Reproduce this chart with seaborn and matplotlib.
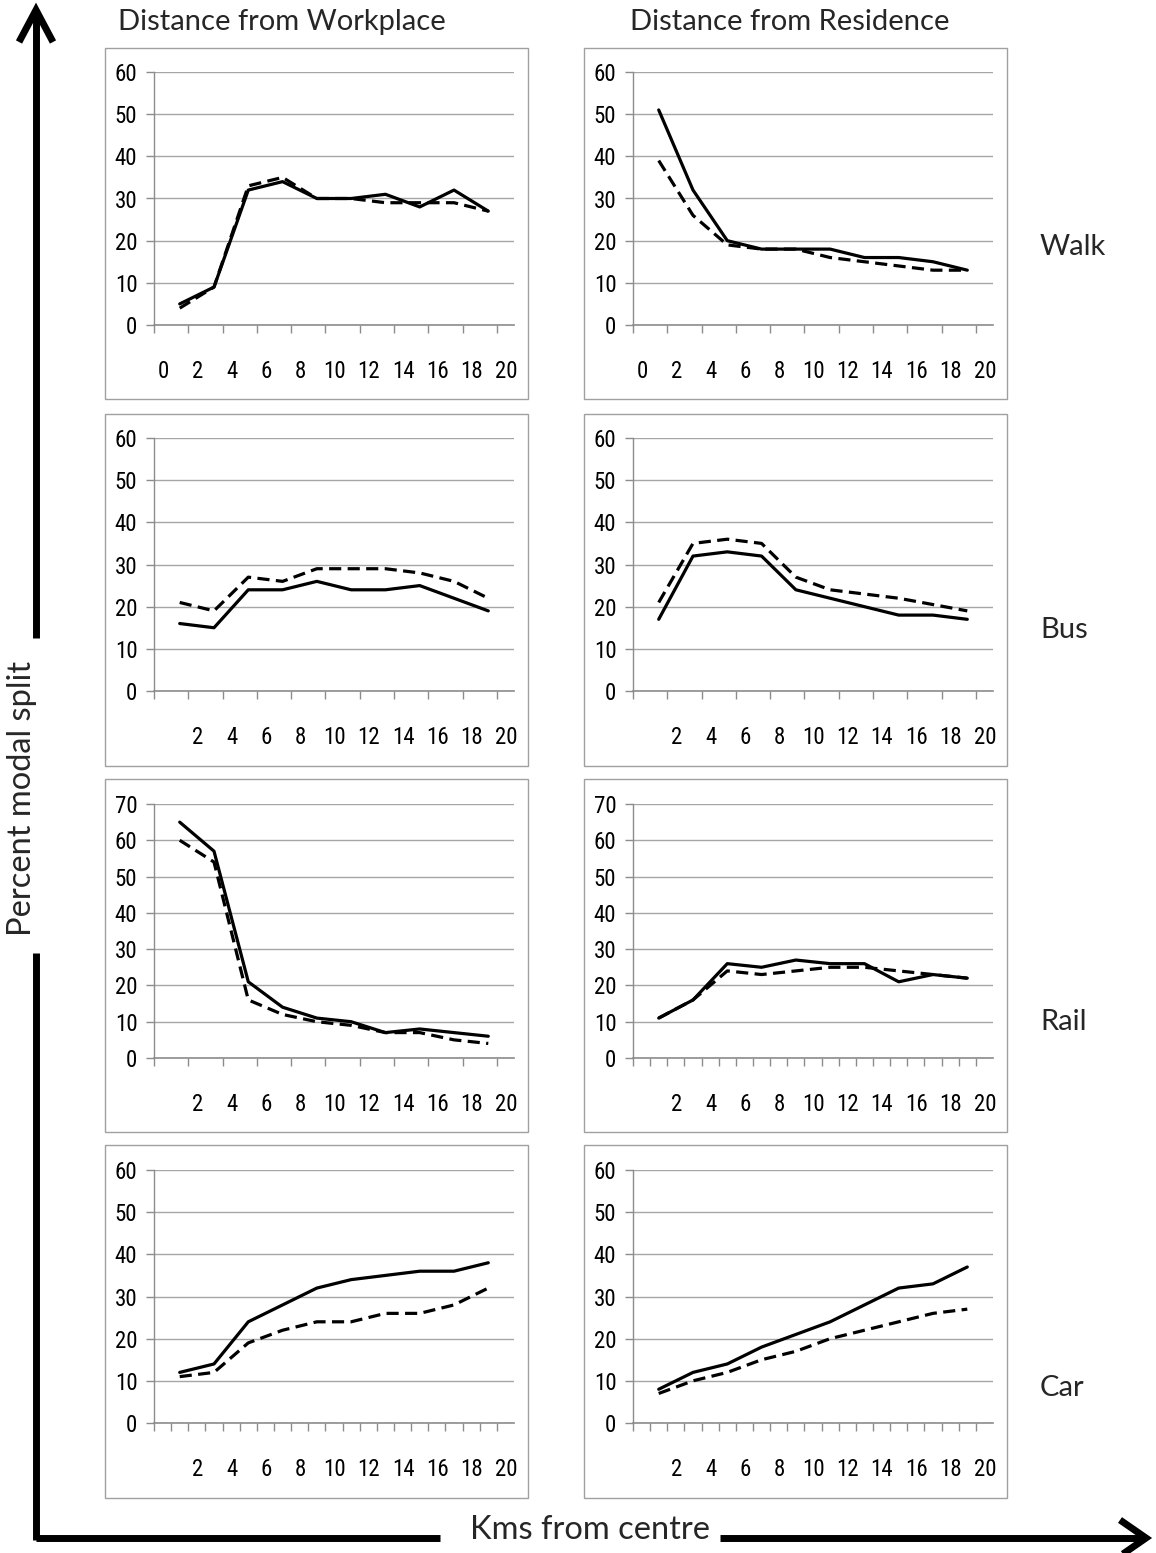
import numpy as np
import pandas as pd
import matplotlib
matplotlib.use("Agg")
import matplotlib.pyplot as plt
from matplotlib import font_manager
from matplotlib.lines import Line2D
from matplotlib.patches import Rectangle
from matplotlib.transforms import ScaledTranslation
import seaborn as sns

# ---------------- data ----------------
km = [1.5, 3.5, 5.5, 7.5, 9.5, 11.5, 13.5, 15.5, 17.5, 19.5]
modes = ["Walk", "Bus", "Rail", "Car"]
col_titles = ["Distance from Workplace", "Distance from Residence"]

walk_work_solid = [5, 9, 32, 34, 30, 30, 31, 28, 32, 27]
walk_work_dash = [4, 9, 33, 35, 30, 30, 29, 29, 29, 27]
walk_res_solid = [51, 32, 20, 18, 18, 18, 16, 16, 15, 13]
walk_res_dash = [39, 26, 19, 18, 18, 16, 15, 14, 13, 13]

bus_work_solid = [16, 15, 24, 24, 26, 24, 24, 25, 22, 19]
bus_work_dash = [21, 19, 27, 26, 29, 29, 29, 28, 26, 22]
bus_res_solid = [17, 32, 33, 32, 24, 22, 20, 18, 18, 17]
bus_res_dash = [21, 35, 36, 35, 27, 24, 23, 22, 20.5, 19]

rail_work_solid = [65, 57, 21, 14, 11, 10, 7, 8, 7, 6]
rail_work_dash = [60, 54, 16, 12, 10, 9, 7, 7, 5, 4]
rail_res_solid = [11, 16, 26, 25, 27, 26, 26, 21, 23, 22]
rail_res_dash = [11, 16, 24, 23, 24, 25, 25, 24, 23, 22]

car_work_solid = [12, 14, 24, 28, 32, 34, 35, 36, 36, 38]
car_work_dash = [11, 12, 19, 22, 24, 24, 26, 26, 28, 32]
car_res_solid = [8, 12, 14, 18, 21, 24, 28, 32, 33, 37]
car_res_dash = [7, 10, 12, 15, 17, 20, 22, 24, 26, 27]

panels = [
    [(walk_work_solid, walk_work_dash), (walk_res_solid, walk_res_dash)],
    [(bus_work_solid, bus_work_dash), (bus_res_solid, bus_res_dash)],
    [(rail_work_solid, rail_work_dash), (rail_res_solid, rail_res_dash)],
    [(car_work_solid, car_work_dash), (car_res_solid, car_res_dash)],
]
y_max = [60, 60, 70, 60]
x_tick_labels_first = [str(v) for v in range(0, 21, 2)]
x_tick_labels_rest = [""] + [str(v) for v in range(2, 21, 2)]
minor_ticks = [[False, False], [False, False], [False, True], [True, True]]

# ---------------- style ----------------
sns.set_theme(style="white")


def pick(fams, fallback="DejaVu Sans"):
    for fam in fams:
        try:
            font_manager.findfont(font_manager.FontProperties(family=fam),
                                  fallback_to_default=False)
            return fam
        except Exception:
            continue
    return fallback


tick_font = pick(["Liberation Sans Narrow", "Roboto Condensed", "Open Sans Condensed", "Roboto"])
title_font = pick(["Lato", "Open Sans"])
plt.rcParams["font.family"] = [title_font, "DejaVu Sans"]
tick_size = 16.5 if "Narrow" in tick_font or "Condensed" in tick_font else 14

W, H = 1156, 1553
fig = plt.figure(figsize=(W / 100, H / 100), dpi=100)
fig.patch.set_facecolor("white")

cols_px = [(154, 514), (633, 993)]
rows_px = [(72, 325), (438, 691), (804, 1058), (1170, 1423)]
box_x = [(105, 528), (584, 1007)]
box_y = [(48, 399), (414, 766), (779, 1132), (1145, 1498)]

grid_c = "#a6a6a6"
axis_c = "#8c8c8c"

for r in range(4):
    for c in range(2):
        # chart-area border
        bx0, bx1 = box_x[c]
        by0, by1 = box_y[r]
        fig.add_artist(Rectangle((bx0 / W, 1 - by1 / H), (bx1 - bx0) / W, (by1 - by0) / H,
                                 transform=fig.transFigure, fill=False,
                                 edgecolor="#a0a0a0", linewidth=1.0))
        l, rr = cols_px[c]
        t, b = rows_px[r]
        ax = fig.add_axes([l / W, 1 - b / H, (rr - l) / W, (b - t) / H])
        solid, dash = panels[r][c]
        df = pd.DataFrame({"km": km, "solid": solid, "dash": dash})
        sns.lineplot(data=df, x="km", y="solid", ax=ax, color="black", linewidth=2.3,
                     linestyle="-", zorder=4)
        sns.lineplot(data=df, x="km", y="dash", ax=ax, color="black", linewidth=2.3,
                     linestyle=(0, (3.8, 2.0)), zorder=3)
        ax.set_xlim(0, 21)
        ax.set_ylim(0, y_max[r])
        ax.set_xlabel("")
        ax.set_ylabel("")
        ax.set_yticks(np.arange(0, y_max[r] + 1, 10))
        ax.set_xticks(np.arange(0, 21, 2))
        labels = x_tick_labels_first if r == 0 else x_tick_labels_rest
        ax.set_xticklabels(labels)
        if minor_ticks[r][c]:
            ax.set_xticks(np.arange(1, 21, 2), minor=True)
        ax.grid(axis="y", color=grid_c, linewidth=1.0)
        ax.grid(axis="x", visible=False)
        for s in ["top", "right"]:
            ax.spines[s].set_visible(False)
        ax.spines["left"].set_color(axis_c)
        ax.spines["bottom"].set_color(axis_c)
        ax.spines["left"].set_linewidth(1.0)
        ax.spines["bottom"].set_linewidth(1.2)
        ax.tick_params(axis="y", which="both", direction="out", length=6, width=1,
                       color=axis_c, pad=6, labelsize=tick_size, labelcolor="black", left=True)
        ax.tick_params(axis="x", which="both", direction="out", length=6, width=1,
                       color=axis_c, pad=19, labelsize=tick_size, labelcolor="black",
                       bottom=True)
        for lab in ax.get_xticklabels() + ax.get_yticklabels():
            lab.set_fontfamily([tick_font, "DejaVu Sans"])
        off = ScaledTranslation(9 / 100, 0, fig.dpi_scale_trans)
        for lab in ax.get_xticklabels():
            lab.set_transform(lab.get_transform() + off)
        ax.set_facecolor("white")
        ax.set_axisbelow(True)

# column titles
fig.text(282 / W, 1 - 22 / H, col_titles[0], ha="center", va="center", fontsize=21)
fig.text(790 / W, 1 - 22 / H, col_titles[1], ha="center", va="center", fontsize=21)

# row labels
row_y = [247, 630, 1022, 1388]
for name, yy in zip(modes, row_y):
    fig.text(1040 / W, 1 - yy / H, name, ha="left", va="center", fontsize=21)

# big axis arrows
lw = 5.0


def fline(xs, ys, **kw):
    fig.add_artist(Line2D([x / W for x in xs], [1 - y / H for y in ys],
                          transform=fig.transFigure, color="black", linewidth=lw,
                          solid_capstyle="butt", **kw))


# vertical axis
fline([36, 36], [1540, 953])
fline([36, 36], [638, 10])
fline([19, 36, 53], [42, 10, 42], solid_joinstyle="miter")
# horizontal axis
fline([36, 440], [1538, 1538])
fline([720, 1145], [1538, 1538])
fline([1120, 1146, 1120], [1520, 1538, 1556], solid_joinstyle="miter")
fig.text(22 / W, 1 - 798 / H, "Percent modal split", rotation=90, ha="center", va="center",
         fontsize=23.5)
fig.text(590 / W, 1 - 1530 / H, "Kms from centre", ha="center", va="center", fontsize=23.5)

fig.savefig("out.png", dpi=100, facecolor="white")
